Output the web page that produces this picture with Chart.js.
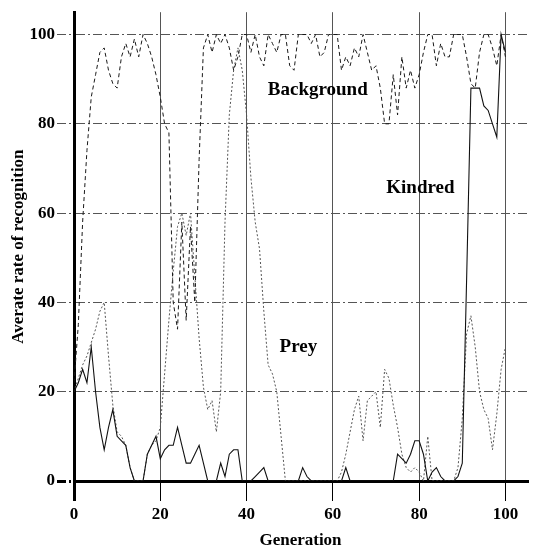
<!DOCTYPE html>
<html>
<head>
<meta charset="utf-8">
<script src="https://cdn.jsdelivr.net/npm/chart.js@4/dist/chart.umd.min.js"></script>
<style>
html,body{margin:0;padding:0;background:#fff;}
#wrap{width:533px;height:555px;position:relative;}
</style>
</head>
<body>
<div id="wrap"><canvas id="c" width="533" height="555"></canvas></div>
<script>
const generations = Array.from({length: 101}, (_, i) => i);

const background = [22,35,58,74,86,91,96,97,92,89,
  88,95,98,95,99,95,100,98,95,91,
  86,80,78,40,34,58,36,57,40,72,
  97,100,96,100,98,100,97,92,95,100,
  100,96,100,95,93,100,98,96,100,100,
  93,92,100,100,100,98,100,95,96,100,
  100,100,92,95,93,97,95,100,96,92,
  93,88,80,80,91,82,95,88,92,88,
  91,96,100,100,93,98,95,95,100,100,
  100,95,89,88,96,100,100,97,93,100,
  95];

const prey = [20,23,26,28,31,34,38,40,28,17,
  11,10,8,3,0,0,0,6,8,9,
  12,24,36,47,57,60,55,60,46,32,
  21,16,18,11,20,58,82,92,97,92,
  82,68,58,52,38,26,24,20,10,0,
  0,0,0,0,0,0,0,0,0,0,
  0,0,2,6,11,16,19,9,18,19,
  20,12,25,23,17,12,6,3,2,3,
  2,0,10,0,0,0,0,0,0,3,
  14,33,37,30,20,16,14,7,15,25,
  30];

const kindred = [20,22,25,22,30,20,12,7,12,16,
  10,9,8,3,0,0,0,6,8,10,
  5,7,8,8,12,8,4,4,6,8,
  4,0,0,0,4,1,6,7,7,0,
  0,0,1,2,3,0,0,0,0,0,
  0,0,0,3,1,0,0,0,0,0,
  0,0,0,3,0,0,0,0,0,0,
  0,0,0,0,0,6,5,4,6,9,
  9,6,0,2,3,1,0,0,0,1,
  4,45,88,88,88,84,83,80,77,100,
  96];

const seriesNames = ['Background', 'Kindred', 'Prey'];
const tickValues = [0, 20, 40, 60, 80, 100];

const toXY = arr => arr.map((v, i) => ({x: generations[i], y: v}));

const serif = "'Liberation Serif', 'DejaVu Serif', serif";

const labelPlugin = {
  id: 'seriesLabels',
  afterDatasetsDraw(chart, args, opts) {
    const ctx = chart.ctx;
    const xs = chart.scales.x, ys = chart.scales.y;
    ctx.save();
    ctx.fillStyle = '#000';
    ctx.font = 'bold 19px ' + serif;
    ctx.textAlign = 'center';
    ctx.textBaseline = 'middle';
    opts.items.forEach(it => {
      ctx.fillText(it.text, xs.getPixelForValue(it.x), ys.getPixelForValue(it.y));
    });
    ctx.restore();
  }
};

new Chart(document.getElementById('c'), {
  type: 'line',
  data: {
    datasets: [
      {label: seriesNames[0], data: toXY(background), borderColor: '#1a1a1a', borderWidth: 1, borderDash: [4, 3], pointRadius: 0, tension: 0, fill: false},
      {label: seriesNames[1], data: toXY(kindred), borderColor: '#111', borderWidth: 1.1, pointRadius: 0, tension: 0, fill: false},
      {label: seriesNames[2], data: toXY(prey), borderColor: '#555', borderWidth: 1, borderDash: [2, 2], pointRadius: 0, tension: 0, fill: false}
    ]
  },
  options: {
    responsive: false,
    animation: false,
    layout: {padding: {top: 6, right: 6, left: 0, bottom: 0}},
    plugins: {
      legend: {display: false},
      tooltip: {enabled: false},
      seriesLabels: {
        items: [
          {text: seriesNames[0], x: 56.5, y: 87.5},
          {text: seriesNames[1], x: 80.3, y: 65.5},
          {text: seriesNames[2], x: 52, y: 30}
        ]
      }
    },
    scales: {
      x: {
        type: 'linear',
        min: 0, max: 105,
        afterFit(s) { s.height = 74; },
        afterBuildTicks(s) { s.ticks = tickValues.map(v => ({value: v})); },
        ticks: {includeBounds: false, padding: 3, color: '#000', font: {family: serif, size: 17, weight: 'bold'}, maxRotation: 0},
        grid: {
          color: '#555',
          lineWidth: c => (c.tick && c.tick.value === 0) ? 3 : 1,
          tickLength: 20,
          tickColor: '#000',
          tickWidth: c => (c.tick && c.tick.value === 0) ? 3 : 1,
          drawOnChartArea: true
        },
        border: {display: true, color: '#000', width: 3},
        title: {display: true, text: 'Generation', color: '#000', font: {family: serif, size: 17, weight: 'bold'}, padding: {top: 6, bottom: 4}}
      },
      y: {
        type: 'linear',
        min: 0, max: 105,
        afterFit(s) { s.width = 74; },
        afterBuildTicks(s) { s.ticks = tickValues.map(v => ({value: v})); },
        ticks: {includeBounds: false, padding: 2, color: '#000', font: {family: serif, size: 17, weight: 'bold'}},
        grid: {
          color: '#555',
          lineWidth: c => (c.tick && c.tick.value === 0) ? 3 : 1,
          tickLength: 17,
          tickColor: c => (c.tick && c.tick.value === 0) ? '#000' : '#555',
          tickWidth: c => (c.tick && c.tick.value === 0) ? 3 : 1,
          tickBorderDash: [9, 3, 2, 3]
        },
        border: {display: true, color: '#000', width: 3, dash: [9, 3, 2, 3]},
        title: {display: true, text: 'Averate rate of recognition', color: '#000', font: {family: serif, size: 17, weight: 'bold'}, padding: {top: 8, bottom: 3}}
      }
    }
  },
  plugins: [labelPlugin]
});
</script>
</body>
</html>
